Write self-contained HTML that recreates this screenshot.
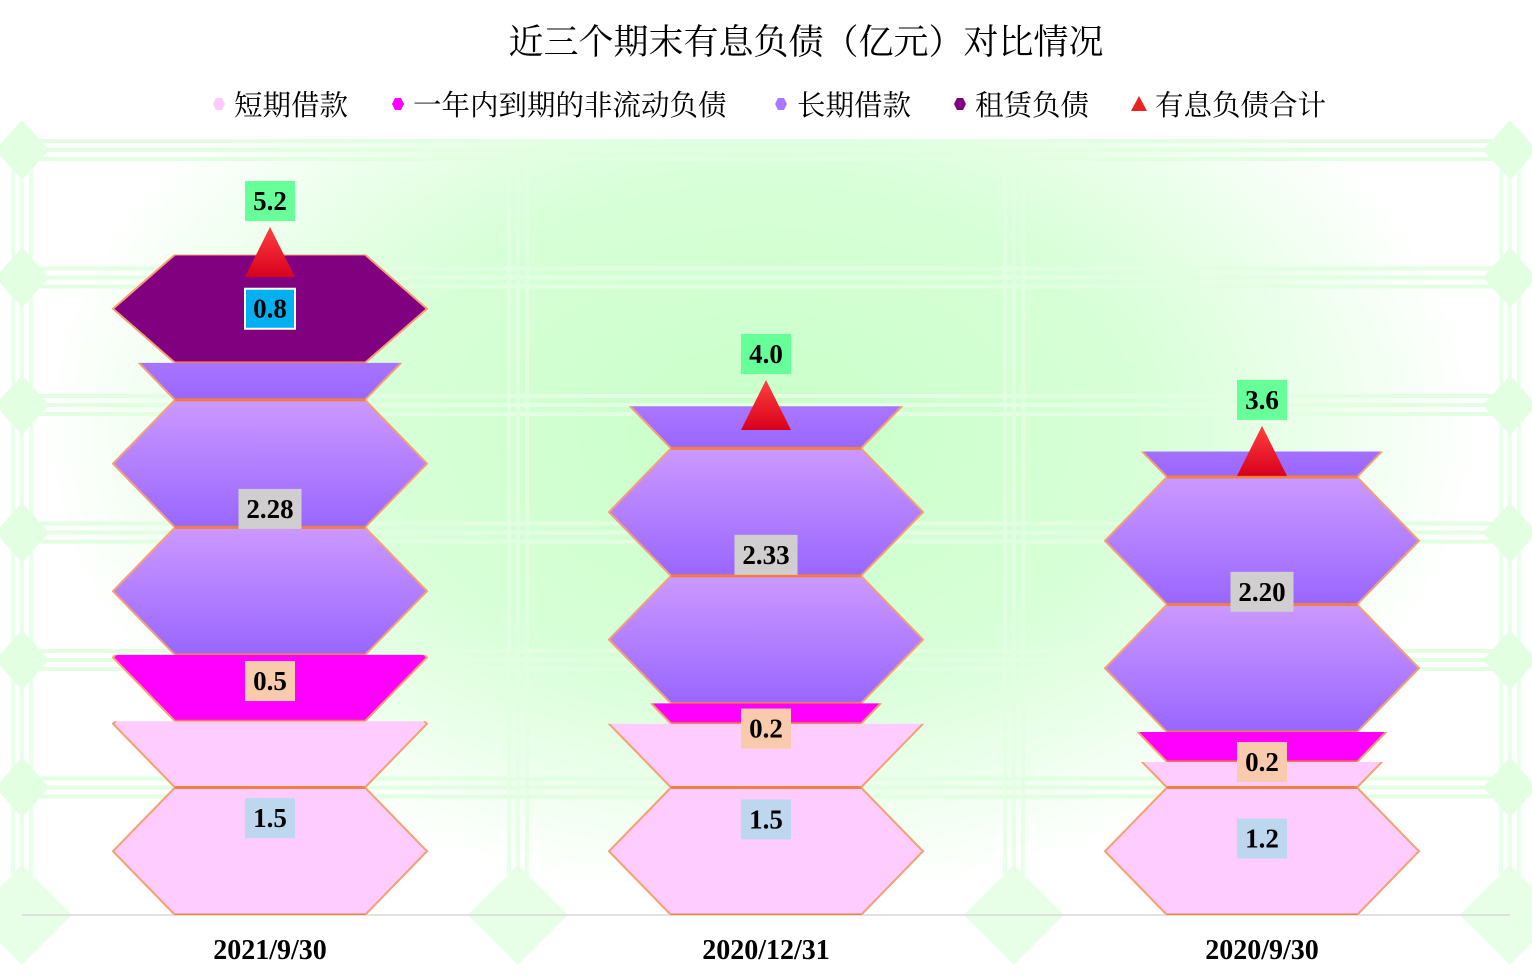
<!DOCTYPE html>
<html><head><meta charset="utf-8">
<style>
html,body{margin:0;padding:0;background:#fff;}
svg{display:block;}
.t{font-family:"Liberation Serif","Noto Serif CJK SC",serif;}
</style></head>
<body>
<svg id="chart" width="1532" height="979" viewBox="0 0 1532 979" xmlns="http://www.w3.org/2000/svg">
<defs>
<radialGradient id="glow" cx="760" cy="430" r="720" gradientUnits="userSpaceOnUse" gradientTransform="translate(760 430) scale(1 0.65) translate(-760 -430)">
<stop offset="0" stop-color="#c8ffc8"/><stop offset="0.55" stop-color="#d8ffd8"/><stop offset="1" stop-color="#ffffff"/>
</radialGradient>
<linearGradient id="purp" x1="0" y1="0" x2="0" y2="1">
<stop offset="0" stop-color="#cc99ff"/><stop offset="1" stop-color="#9966ff"/>
</linearGradient>
<linearGradient id="tri" x1="0" y1="0" x2="0" y2="1">
<stop offset="0" stop-color="#ff4040"/><stop offset="1" stop-color="#d8001c"/>
</linearGradient>
</defs>
<rect x="0" y="0" width="1532" height="979" fill="#fff"/>
<rect x="22" y="140" width="1488" height="775" fill="url(#glow)"/>
<g id="grid"></g>
<g id="bars"></g>
<g id="labels"></g>
<text class="t" x="806" y="54" font-size="35" text-anchor="middle" fill="#000">近三个期末有息负债（亿元）对比情况</text>
<g id="legend" class="t" font-size="28.5" fill="#000">
<g><polygon points="213,104 216,98 222,98 225,104 222,110 216,110" fill="#ffccff"/><text x="234" y="115">短期借款</text></g>
<g><polygon points="392,104 395,98 401,98 404,104 401,110 395,110" fill="#ff00ff"/><text x="413" y="115">一年内到期的非流动负债</text></g>
<g><polygon points="775,104 778,98 784,98 787,104 784,110 778,110" fill="#aa77ff"/><text x="797" y="115">长期借款</text></g>
<g><polygon points="954,104 957,98 963,98 966,104 963,110 957,110" fill="#800080"/><text x="975" y="115">租赁负债</text></g>
<g><polygon points="1139,96 1147,111 1131,111" fill="#ee2020"/><text x="1155" y="115">有息负债合计</text></g>
</g>
</svg>
<script>
const categories = ["2021/9/30", "2020/12/31", "2020/9/30"];
const shortLoans = [1.52, 1.5, 1.2];
const currentPortion = [0.52, 0.16, 0.235];
const longLoans = [2.29, 2.33, 2.2];
const leaseLiab = [0.85, 0, 0];
const totals = [5.2, 4.0, 3.64];
const shortLabels = ["1.5", "1.5", "1.2"];
const currentLabels = ["0.5", "0.2", "0.2"];
const longLabels = ["2.28", "2.33", "2.20"];
const leaseLabels = ["0.8", "", ""];
const totalLabels = ["5.2", "4.0", "3.6"];
const yTicks = [0, 1, 2, 3, 4, 5, 6];

const NS = "http://www.w3.org/2000/svg";
const X0 = 22, X1 = 1510, Y0 = 915, UNIT = 127.5;
const bandW = (X1 - X0) / categories.length;
function xc(i){ return X0 + bandW * (i + 0.5); }
function yv(v){ return Y0 - v * UNIT; }
function mk(tag, attrs, parent){ const e = document.createElementNS(NS, tag); for (const k in attrs) e.setAttribute(k, attrs[k]); parent.appendChild(e); return e; }

const grid = document.getElementById('grid');
const gc = "#e2ffe2";
yTicks.forEach(t => {
  const y = yv(t);
  if (t > 0) {
    [-9, 0, 9].forEach(d => {
      const l = mk('rect', {x: X0, y: y + d - 2, width: X1 - X0, height: 4, fill: gc}, grid);
      
      
    });
    [X0, X1].forEach(x => {
      const dm = mk('polygon', {points: `${x},${y-30} ${x+27},${y} ${x},${y+30} ${x-27},${y}`, fill: gc}, grid);
      
      
    });
  }
});
for (let i = 0; i <= categories.length; i++) {
  const x = X0 + bandW * i;
  [-9, 0, 9].forEach(d => {
    const l = mk('rect', {x: x + d - 2, y: 150, width: 4, height: Y0 - 150, fill: gc, opacity: 0.8}, grid);
    
    
  });
  const dm = mk('polygon', {points: `${x},${Y0-50} ${x+50},${Y0} ${x},${Y0+50} ${x-50},${Y0}`, fill: "#e6ffe6"}, grid);
  
  
}
const ax = mk('line', {x1: X0, y1: Y0, x2: X1, y2: Y0, stroke: "#d9d9d9", 'stroke-width': 1.5}, grid);



const bars = document.getElementById('bars');
let clipId = 0;
function hexPts(cx, yb, yt){
  const ym = (yb + yt) / 2;
  return `${cx-95},${yb} ${cx+95},${yb} ${cx+157},${ym} ${cx+95},${yt} ${cx-95},${yt} ${cx-157},${ym}`;
}
function drawSeg(i, base, val, fill, name, scaleMode){
  if (val <= 0) return;
  const cx = xc(i);
  const g = mk('g', {}, bars);
  
  
  const id = 'c' + (clipId++);
  const cp = mk('clipPath', {id: id}, g);
  mk('rect', {x: cx - 170, y: yv(base + val), width: 340, height: val * UNIT}, cp);
  const inner = mk('g', {'clip-path': `url(#${id})`}, g);
  const u = scaleMode ? val : 1;
  for (let k = 0; k * u < val - 1e-6; k++) {
    const yb = yv(base + k * u), yt = yv(base + (k + 1) * u);
    mk('polygon', {points: hexPts(cx, yb, yt), fill: fill, stroke: "#f4a070", 'stroke-width': 2}, inner);
    mk('line', {x1: cx - 95, x2: cx + 95, y1: yb, y2: yb, stroke: "#f08040", 'stroke-width': 3}, inner);
  }
}
const labels = document.getElementById('labels');
function label(x, y, txt, bg, name, border){
  if (!txt) return;
  const g = mk('g', {}, labels);
  
  
  const w = txt.length * 13 + 11;
  mk('rect', {x: x - w / 2, y: y - 20, width: w, height: 40, fill: bg, stroke: border || 'none', 'stroke-width': border ? 2 : 0}, g);
  const t = mk('text', {x: x, y: y + 9, 'text-anchor': 'middle', 'font-size': 27, 'font-weight': 'bold', fill: '#000', class: 't'}, g);
  t.textContent = txt;
}
categories.forEach((c, i) => {
  const cx = xc(i);
  let b = 0;
  drawSeg(i, b, shortLoans[i], "#ffccff", "bar-short-term-loans"); const bS = b; b += shortLoans[i];
  drawSeg(i, b, currentPortion[i], "#ff00ff", "bar-current-portion"); const bC = b; b += currentPortion[i];
  drawSeg(i, b, longLoans[i], "url(#purp)", "bar-long-term-loans"); const bL = b; b += longLoans[i];
  drawSeg(i, b, leaseLiab[i], "#800080", "bar-lease-liabilities", true); const bE = b; b += leaseLiab[i];
  label(cx, yv(bS + shortLoans[i] / 2), shortLabels[i], "#bdd7ee", "label-short-term-loans");
  label(cx, yv(bC + currentPortion[i] / 2) + (currentPortion[i] < 0.3 ? 15 : -7), currentLabels[i], "#f8cbad", "label-current-portion");
  label(cx, yv(bL + longLoans[i] / 2), longLabels[i], "#d0cece", "label-long-term-loans");
  if (leaseLiab[i] > 0) label(cx, yv(bE + leaseLiab[i] / 2), leaseLabels[i], "#00b0f0", "label-lease-liabilities", "#fff");
  const yt = yv(totals[i]);
  const tr = mk('polygon', {points: `${cx},${yt-25} ${cx+25},${yt+25} ${cx-25},${yt+25}`, fill: "url(#tri)"}, labels);
  
  
  label(cx, yt - 51, totalLabels[i], "#66ff99", "label-total");
  const xl = mk('text', {x: cx, y: 959, 'text-anchor': 'middle', 'font-size': 28, 'font-weight': 'bold', fill: '#000', class: 't'}, labels);
  xl.textContent = c;
  
  
});
</script>
</body></html>
